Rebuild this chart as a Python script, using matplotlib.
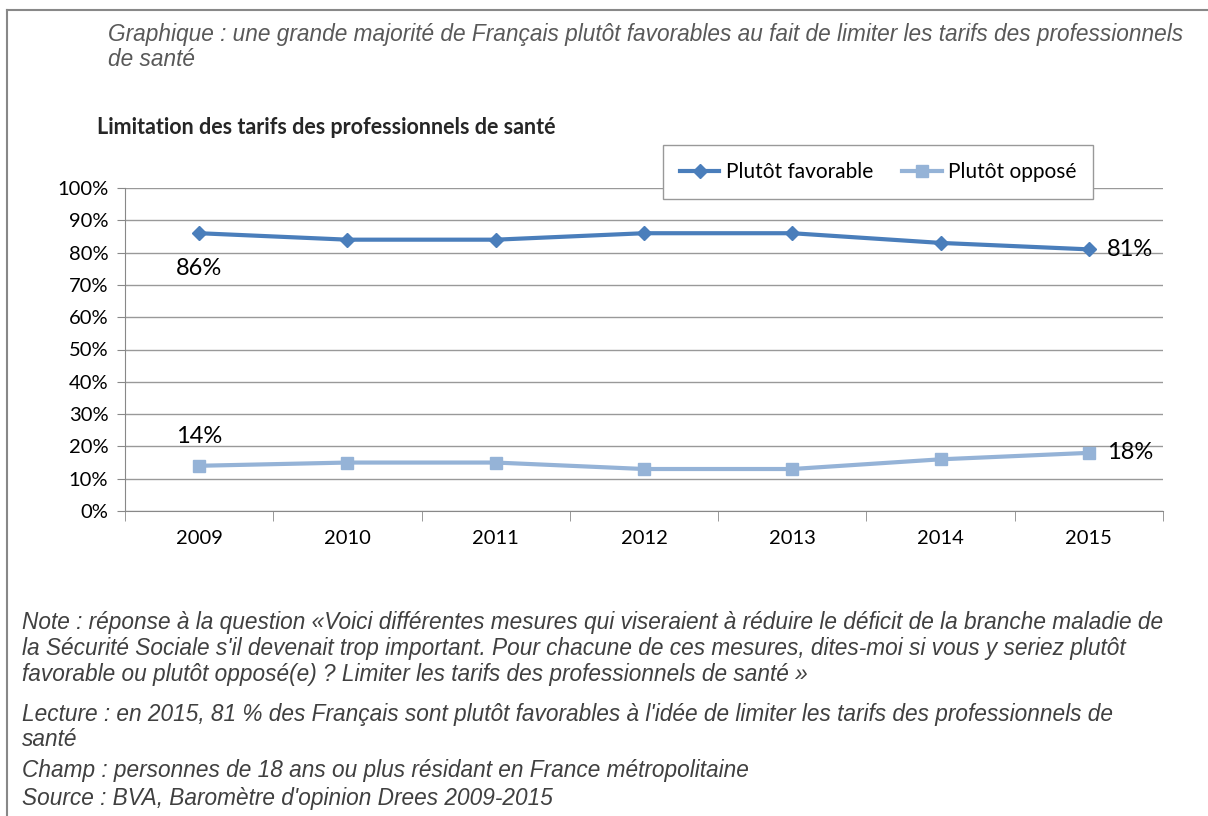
import matplotlib
matplotlib.use('Agg')
import matplotlib.pyplot as plt
from matplotlib.lines import Line2D
from matplotlib.ticker import FixedLocator, NullFormatter

years = ['2009', '2010', '2011', '2012', '2013', '2014', '2015']
favorable = [86, 84, 84, 86, 86, 83, 81]
oppose = [14, 15, 15, 13, 13, 16, 18]
y_ticks = [0, 10, 20, 30, 40, 50, 60, 70, 80, 90, 100]

W, H = 1208, 816
c_fav = '#4A7EBB'
c_opp = '#95B3D7'
narrow = ['Liberation Sans Narrow', 'Liberation Sans', 'DejaVu Sans']
cal = ['Lato', 'DejaVu Sans']


def fx(x):
    return x / W


def fy(y):
    return 1 - y / H


fig = plt.figure(figsize=(W / 100, H / 100), dpi=100)

# outer frame
fig.add_artist(Line2D([fx(7), fx(7)], [fy(10), 0], color='#888888', lw=1.5))
fig.add_artist(Line2D([fx(7), 1], [fy(10), fy(10)], color='#888888', lw=1.5))

fig.text(fx(108), fy(34), "Graphique : une grande majorité de Français plutôt favorables au fait de limiter les tarifs des professionnels",
         family=narrow, style='italic', fontsize=16.3, color='#595959', va='center')
fig.text(fx(108), fy(60), "de santé", family=narrow, style='italic', fontsize=16.3, color='#595959', va='center')

fig.text(fx(97), fy(128), "Limitation des tarifs des professionnels de santé",
         family=cal, fontweight='bold', fontsize=15.5, color='#262626', va='center')

ax = fig.add_axes([fx(125), fy(511), fx(1163 - 125), (511 - 188) / H])
x = list(range(len(years)))
ax.plot(x, favorable, color=c_fav, lw=3, marker='D', ms=7, label='Plutôt favorable', zorder=3)
ax.plot(x, oppose, color=c_opp, lw=3, marker='s', ms=8, label='Plutôt opposé', zorder=3)

ax.set_xlim(-0.5, len(years) - 0.5)
ax.set_ylim(0, 100)
ax.set_yticks(y_ticks)
ax.set_yticklabels([f'{v}%' for v in y_ticks])
ax.set_xticks(x)
ax.set_xticklabels(years)
ax.xaxis.set_minor_locator(FixedLocator([i - 0.5 for i in range(len(years) + 1)]))
ax.xaxis.set_minor_formatter(NullFormatter())
ax.tick_params(axis='x', which='major', length=0, pad=14, labelsize=14.5, colors='#000000')
ax.tick_params(axis='x', which='minor', length=7, color='#888888')
ax.tick_params(axis='y', length=6, color='#888888', pad=6, labelsize=14.5)
for lab in ax.get_xticklabels() + ax.get_yticklabels():
    lab.set_family(cal)
ax.grid(axis='y', color='#999999', lw=1)
ax.set_axisbelow(True)
for s in ['top', 'right']:
    ax.spines[s].set_visible(False)
ax.spines['left'].set_color('#888888')
ax.spines['bottom'].set_color('#888888')

ax.text(0, favorable[0] - 11, f'{favorable[0]}%', family=cal, fontsize=17, ha='center', va='center')
ax.text(6.12, favorable[-1], f'{favorable[-1]}%', family=cal, fontsize=17, ha='left', va='center')
ax.text(0, oppose[0] + 9, f'{oppose[0]}%', family=cal, fontsize=17, ha='center', va='center')
ax.text(6.12, oppose[-1], f'{oppose[-1]}%', family=cal, fontsize=17, ha='left', va='center')

leg = fig.legend(loc='center', bbox_to_anchor=(fx(878), fy(172)), ncol=2, frameon=True,
                 fancybox=False, edgecolor='#999999', framealpha=1, prop={'family': cal, 'size': 15},
                 handlelength=1.9, handletextpad=0.3, columnspacing=1.4, borderpad=0.8)

notes = [
    (622, "Note : réponse à la question «Voici différentes mesures qui viseraient à réduire le déficit de la branche maladie de"),
    (648, "la Sécurité Sociale s'il devenait trop important. Pour chacune de ces mesures, dites-moi si vous y seriez plutôt"),
    (674, "favorable ou plutôt opposé(e) ? Limiter les tarifs des professionnels de santé »"),
    (714, "Lecture : en 2015, 81 % des Français sont plutôt favorables à l'idée de limiter les tarifs des professionnels de"),
    (740, "santé"),
    (771, "Champ : personnes de 18 ans ou plus résidant en France métropolitaine"),
    (799, "Source : BVA, Baromètre d'opinion Drees 2009-2015"),
]
for yy, t in notes:
    fig.text(fx(22), fy(yy), t, family=narrow, style='italic', fontsize=16.3, color='#404040', va='center')

fig.savefig('out.png', dpi=100)
